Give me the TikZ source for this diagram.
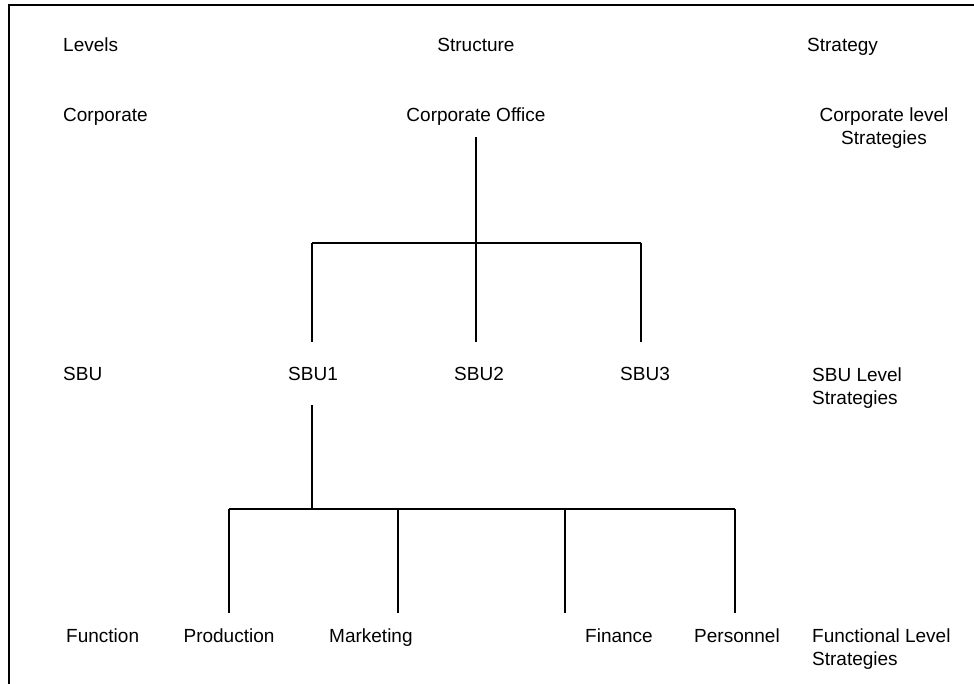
\documentclass[tikz,border=0pt]{standalone}
\usepackage{fontspec}
\setmainfont{Liberation Sans}
\begin{document}
\begin{tikzpicture}[x=1pt,y=-1pt,
  lbl/.style={inner sep=0pt, font=\fontsize{19}{23}\selectfont},
  lft/.style={lbl, anchor=base west, align=left},
  ctr/.style={lbl, anchor=base, align=center},
  wire/.style={line width=2pt},
  frame/.style={line width=2.4pt}]
\useasboundingbox (0,0) rectangle (974,684);

% outer frame (top and left edges)
\coordinate (fa) at (9,690);
\coordinate (fb) at (9,5);
\coordinate (fc) at (980,5);
\draw[frame] (fa) -- (fb) -- (fc);

% column headings
\node[lft] (hlev) at (63,52) {Levels};
\node[ctr] (hstr) at (476,52) {Structure};
\node[lft] (hsty) at (807,52) {Strategy};

% corporate level (two-line labels sit on the baseline of their last line)
\node[lft] (lcorp) at (63,122) {Corporate};
\node[ctr] (co) at (476,122) {Corporate Office};
\node[ctr] (scorp) at (884,145) {Corporate level\\Strategies};

% SBU level
\node[lft] (lsbu) at (63,381) {SBU};
\node[ctr] (s1) at (313,381) {SBU1};
\node[ctr] (s2) at (479,381) {SBU2};
\node[ctr] (s3) at (645,381) {SBU3};
\node[lft] (ssbu) at (812,404) {SBU Level\\Strategies};

% functional level
\node[lft] (lfun) at (66,642) {Function};
\node[ctr] (fp) at (229,642) {Production};
\node[lft] (fm) at (329,642) {Marketing};
\node[lft] (ff) at (585,642) {Finance};
\node[lft] (fr) at (694,642) {Personnel};
\node[lft] (sfun) at (812,665) {Functional Level\\Strategies};

% corporate office to SBUs
\coordinate (j1) at (476,243);
\coordinate (j1l) at (312,243);
\coordinate (j1r) at (641,243);
\coordinate (e1) at (312,342);
\coordinate (e2) at (476,342);
\coordinate (e3) at (641,342);
\draw[wire, shorten <=11pt] (co.south) -- (j1);
\draw[wire] (j1l) -- (j1r);
\draw[wire] (j1l) -- (e1);
\draw[wire] (j1) -- (e2);
\draw[wire] (j1r) -- (e3);

% SBU1 to functions
\coordinate (t1) at (312,405);
\coordinate (j2) at (312,509);
\coordinate (j2l) at (229,509);
\coordinate (j2r) at (735,509);
\coordinate (g1) at (229,613);
\coordinate (g2) at (398,613);
\coordinate (g3) at (565,613);
\coordinate (g4) at (735,613);
\coordinate (k2) at (398,509);
\coordinate (k3) at (565,509);
\draw[wire] (t1) -- (j2);
\draw[wire] (j2l) -- (j2r);
\draw[wire] (j2l) -- (g1);
\draw[wire] (k2) -- (g2);
\draw[wire] (k3) -- (g3);
\draw[wire] (j2r) -- (g4);
\end{tikzpicture}
\end{document}
